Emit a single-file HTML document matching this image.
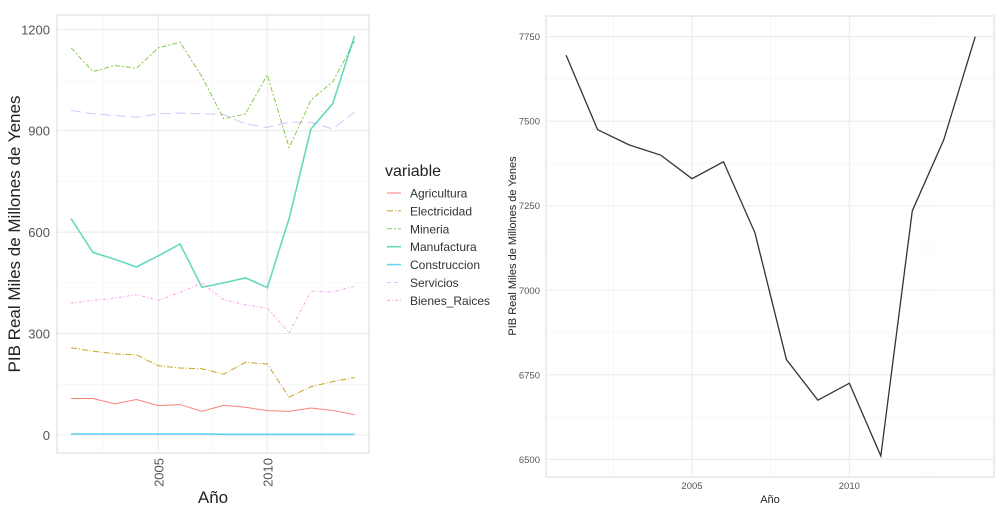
<!DOCTYPE html>
<html><head><meta charset="utf-8"><style>
body{margin:0;background:#fff;width:1000px;height:515px;overflow:hidden;font-family:"Liberation Sans",sans-serif}
svg{position:absolute;top:0;left:0}
</style></head><body>
<svg id="c" width="1000" height="515"></svg>
<script>
const years=[2001,2002,2003,2004,2005,2006,2007,2008,2009,2010,2011,2012,2013,2014];
const agricultura=[108,108,92,105,87,90,70,88,82,72,70,80,73,60];
const electricidad=[258,248,240,237,205,198,196,180,215,210,112,143,158,170];
const mineria=[1145,1075,1093,1085,1145,1162,1060,935,950,1065,850,990,1045,1165];
const manufactura=[640,540,520,497,530,565,437,450,465,436,640,905,980,1180];
const construccion=[3,3,3,3,3,3,3,2,2,2,2,2,2,2];
const servicios=[960,950,945,940,950,952,950,948,920,910,925,925,905,955];
const bienesRaices=[390,398,405,415,398,422,450,400,385,375,302,425,423,440];
const total=[7695,7475,7430,7400,7330,7380,7170,6795,6675,6725,6510,7235,7445,7750];
const leftYTicks=[0,300,600,900,1200];
const rightYTicks=[6500,6750,7000,7250,7500,7750];
const xTicks=[2005,2010];
const seriesNames=["Agricultura","Electricidad","Mineria","Manufactura","Construccion","Servicios","Bienes_Raices"];

const NS="http://www.w3.org/2000/svg",svg=document.getElementById('c');
function mk(t,a,p){const e=document.createElementNS(NS,t);for(const k in a)e.setAttribute(k,a[k]);(p||svg).appendChild(e);return e;}
// left axes
const lx=y=>158.3+(y-2005)*21.8, ly=v=>435-v*(405.7/1200);
const rx=y=>692+(y-2005)*31.47, ry=v=>459.3-(v-6500)*(422.6/1250);

function panel(x0,y0,x1,y1,xf,yf,yt,name){
  const g=mk('g',{});
  
  
  for(let i=0;i<yt.length-1;i++){const m=(yt[i]+yt[i+1])/2;mk('line',{x1:x0,x2:x1,y1:yf(m),y2:yf(m),stroke:'#f3f3f3','stroke-width':0.6},g);}
  for(let y=2002.5;y<=2012.5;y+=5)mk('line',{x1:xf(y),x2:xf(y),y1:y0,y2:y1,stroke:'#f3f3f3','stroke-width':0.6},g);
  yt.forEach(v=>mk('line',{x1:x0,x2:x1,y1:yf(v),y2:yf(v),stroke:'#ebebeb','stroke-width':1.1},g));
  xTicks.forEach(v=>mk('line',{x1:xf(v),x2:xf(v),y1:y0,y2:y1,stroke:'#ebebeb','stroke-width':1.1},g));
  mk('rect',{x:x0,y:y0,width:x1-x0,height:y1-y0,fill:'none',stroke:'#e0e0e0','stroke-width':1.2},g);
  return g;
}
panel(57,15,369,453,lx,ly,leftYTicks,'left-panel');
panel(546,16,994,477,rx,ry,rightYTicks,'right-panel');

leftYTicks.forEach(v=>{const t=mk('text',{x:50,y:ly(v)+5,'text-anchor':'end','font-size':13,fill:'#555'});t.textContent=v;});
xTicks.forEach(v=>{const t=mk('text',{x:lx(v)+5,y:458,'text-anchor':'end','font-size':13,fill:'#555',transform:`rotate(-90 ${lx(v)+5} 458)`});t.textContent=v;});
rightYTicks.forEach(v=>{const t=mk('text',{x:540,y:ry(v)+3.5,'text-anchor':'end','font-size':9.5,fill:'#555'});t.textContent=v;});
xTicks.forEach(v=>{const t=mk('text',{x:rx(v),y:489,'text-anchor':'middle','font-size':9.5,fill:'#555'});t.textContent=v;});

let t=mk('text',{x:213,y:503,'text-anchor':'middle','font-size':17,fill:'#222'});t.textContent='Año';
t=mk('text',{x:20,y:234,'text-anchor':'middle','font-size':17,fill:'#222',transform:'rotate(-90 20 234)'});t.textContent='PIB Real Miles de Millones de Yenes';
t=mk('text',{x:770,y:503,'text-anchor':'middle','font-size':11,fill:'#222'});t.textContent='Año';
t=mk('text',{x:516,y:246,'text-anchor':'middle','font-size':11,fill:'#222',transform:'rotate(-90 516 246)'});t.textContent='PIB Real Miles de Millones de Yenes';

const data=[agricultura,electricidad,mineria,manufactura,construccion,servicios,bienesRaices];
const colors=['#f8766d','#c49a00','#53b400','#00c094','#00b6eb','#a58aff','#fb61d7'];
const dashes=['none','6 2 1 2','5 2 2 2','none','none','10 5','3 2 1 2'];
const widths=[1,1,1,1.6,1.6,1,1];
const opac=[0.9,0.9,0.7,0.6,0.6,0.5,0.6];
data.forEach((d,i)=>{
  const p=mk('polyline',{points:d.map((v,j)=>lx(years[j])+','+ly(v)).join(' '),fill:'none',stroke:colors[i],'stroke-width':widths[i],'stroke-dasharray':dashes[i],'stroke-opacity':opac[i]});
  
  
});
const tl=mk('polyline',{points:total.map((v,j)=>rx(years[j])+','+ry(v)).join(' '),fill:'none',stroke:'#333','stroke-width':1.3});



t=mk('text',{x:385,y:176,'font-size':16,fill:'#222'});t.textContent='variable';
seriesNames.forEach((n,i)=>{
  const y=193+i*17.9;
  const l=mk('line',{x1:387,x2:401,y1:y,y2:y,stroke:colors[i],'stroke-width':widths[i],'stroke-dasharray':dashes[i]==='10 5'?'4 3':dashes[i],'stroke-opacity':opac[i]});
  
  
  const tx=mk('text',{x:410,y:y+4.5,'font-size':12,fill:'#333'});tx.textContent=n;
  
  
});
</script></body></html>
